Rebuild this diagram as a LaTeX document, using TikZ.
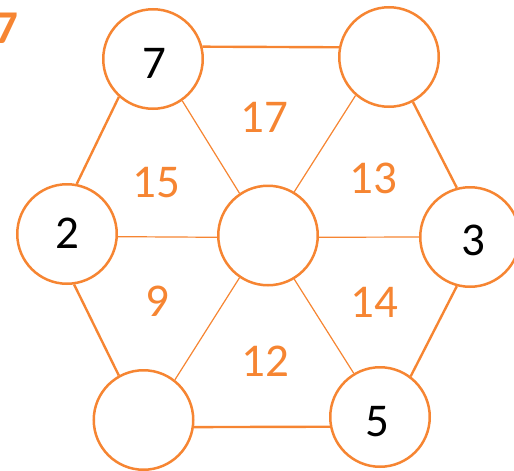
\documentclass[tikz,border=0pt]{standalone}
\usepackage{fontspec}
\setmainfont{Carlito}
\definecolor{org}{RGB}{246,133,50}
\begin{document}
\begin{tikzpicture}[x=1pt,y=-1pt,
  ring/.style={circle,draw=org,line width=2.5pt,minimum size=99.5pt,inner sep=0pt,fill=white},
  num/.style={font=\fontsize{47}{47}\selectfont,text=black,inner sep=0pt},
  sumlbl/.style={font=\fontsize{47}{47}\selectfont,text=org,inner sep=0pt},
  outeredge/.style={draw=org,line width=2.4pt},
  spoke/.style={draw=org,line width=1.2pt}]
\useasboundingbox (0,0) rectangle (514,471);
\clip (0,0) rectangle (514,471);
% circles
\node[ring] (tl) at (153,59) {};
\node[ring] (tr) at (389,57) {};
\node[ring] (l)  at (67,234) {};
\node[ring] (c)  at (268,235.5) {};
\node[ring] (r)  at (470,237) {};
\node[ring] (bl) at (143.5,420) {};
\node[ring] (br) at (380,417) {};
% outer edges
\draw[outeredge] (tl.14) -- (tr.169);
\draw[outeredge] (tl.228) -- (l.79);
\draw[outeredge] (tr.298) -- (r.105);
\draw[outeredge] (l.278) -- (bl.119);
\draw[outeredge] (r.255) -- (br.53);
\draw[outeredge] (bl.352) -- (br.191);
% spokes
\draw[spoke] (tl.305) -- (c.124);
\draw[spoke] (tr.229) -- (c.59);
\draw[spoke] (l.357) -- (c.182);
\draw[spoke] (c.358) -- (r.180);
\draw[spoke] (c.236) -- (bl.52);
\draw[spoke] (c.301) -- (br.121);
% numbers in circles
\node[num] (n7) at (154.5,63) {7};
\node[num] (n2) at (67.8,232.8) {2};
\node[num] (n3) at (473,240.5) {3};
\node[num] (n5) at (377.8,421.3) {5};
% sums
\node[sumlbl] (s17) at (264.3,117.2) {17};
\node[sumlbl] (s15) at (156.2,182.8) {15};
\node[sumlbl] (s13) at (373.3,178.8) {13};
\node[sumlbl] (s9)  at (157.2,301.7) {9};
\node[sumlbl] (s14) at (374.5,302.2) {14};
\node[sumlbl] (s12) at (265.8,361.7) {12};
% corner label
\node[sumlbl,font=\fontsize{47}{47}\selectfont\bfseries] (q7) at (6.5,28) {7};
\end{tikzpicture}
\end{document}
